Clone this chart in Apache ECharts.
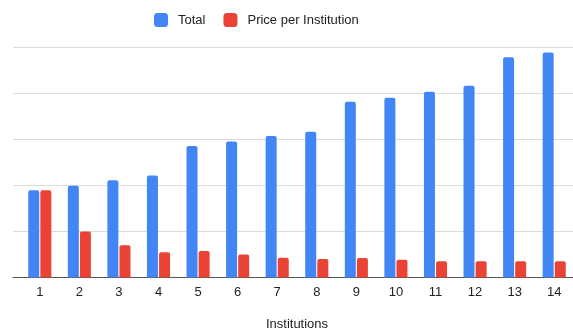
<!DOCTYPE html>
<html>
<head>
<meta charset="utf-8">
<script src="https://cdn.jsdelivr.net/npm/echarts@6/dist/echarts.min.js"></script>
<style>
  html, body { margin: 0; padding: 0; background: #fff; }
  #chart { width: 573px; height: 329px; }
</style>
</head>
<body>
<div id="chart"></div>
<script>
// Institutions on the x axis
const institutions = ['1', '2', '3', '4', '5', '6', '7', '8', '9', '10', '11', '12', '13', '14'];
// Total cost for each number of institutions
const totalValues = [1890, 1990, 2110, 2210, 2850, 2950, 3070, 3160, 3810, 3900, 4030, 4160, 4780, 4880];
// Price paid by each institution
const pricePerInstitution = [1890, 1000, 700, 550, 575, 500, 430, 400, 425, 385, 355, 355, 355, 350];

const seriesNames = ['Total', 'Price per Institution'];
const FONT = '"Liberation Sans", Arial, sans-serif';
const Y_MAX = 5000;
const Y_STEP = 1000;

const chart = echarts.init(document.getElementById('chart'), null, { renderer: 'canvas' });

chart.setOption({
  animation: false,
  backgroundColor: '#ffffff',
  textStyle: { fontFamily: FONT },
  legend: {
    data: seriesNames,
    left: 154,
    top: 13,
    padding: 0,
    itemWidth: 14,
    itemHeight: 14,
    itemGap: 18,
    icon: 'roundRect',
    textStyle: { color: '#222', fontSize: 13, fontFamily: FONT, padding: [0, 0, 0, 5] }
  },
  grid: [
    // background grid: horizontal rules and baseline
    { left: 13, right: 0, top: 47, bottom: 51.5, containLabel: false, outerBoundsMode: 'none' },
    // bars
    { left: 20, width: 554, top: 47, bottom: 51.5, containLabel: false, outerBoundsMode: 'none' }
  ],
  xAxis: [
    {
      gridIndex: 0,
      type: 'category',
      data: [''],
      axisLine: { show: true, lineStyle: { color: '#555', width: 1 } },
      axisTick: { show: false },
      axisLabel: { show: false },
      splitLine: { show: false }
    },
    {
      gridIndex: 1,
      type: 'category',
      data: institutions,
      axisLine: { show: false },
      axisTick: { show: false },
      axisLabel: { color: '#222', fontSize: 13, margin: 8, fontFamily: FONT },
      name: 'Institutions',
      nameLocation: 'middle',
      nameGap: 40,
      nameTextStyle: { color: '#222', fontSize: 13, fontFamily: FONT }
    }
  ],
  yAxis: [
    {
      gridIndex: 0,
      type: 'value',
      min: 0,
      max: Y_MAX,
      interval: Y_STEP,
      axisLine: { show: false },
      axisTick: { show: false },
      axisLabel: { show: false },
      splitLine: { show: true, lineStyle: { color: '#dcdcdc', width: 1 } }
    },
    {
      gridIndex: 1,
      type: 'value',
      min: 0,
      max: Y_MAX,
      interval: Y_STEP,
      axisLine: { show: false },
      axisTick: { show: false },
      axisLabel: { show: false },
      splitLine: { show: false }
    }
  ],
  series: [
    {
      name: seriesNames[0],
      type: 'bar',
      xAxisIndex: 1,
      yAxisIndex: 1,
      data: totalValues,
      barWidth: 11,
      barGap: '10%',
      itemStyle: { color: '#4285F4', borderRadius: [2, 2, 0, 0] },
      z: 3
    },
    {
      name: seriesNames[1],
      type: 'bar',
      xAxisIndex: 1,
      yAxisIndex: 1,
      data: pricePerInstitution,
      barWidth: 11,
      barGap: '10%',
      itemStyle: { color: '#EA4335', borderRadius: [2, 2, 0, 0] },
      z: 3
    }
  ]
});
</script>
</body>
</html>
